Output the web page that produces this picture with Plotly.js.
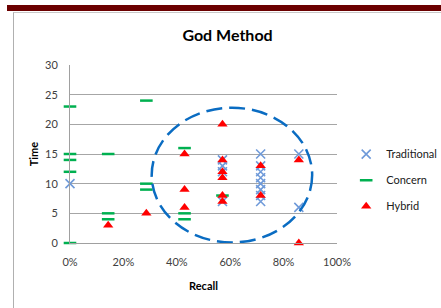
<!DOCTYPE html>
<html>
<head>
<meta charset="utf-8">
<script src="https://cdn.plot.ly/plotly-3.0.1.min.js"></script>
<style>
  html, body { margin: 0; padding: 0; background: #fff; width: 441px; height: 308px; overflow: hidden; }
  #bar { position: absolute; left: 7px; top: 5px; width: 434px; height: 6px; background: #6b0000; }
  #frame { position: absolute; left: 13px; top: 12px; width: 440px; height: 300px; border-left: 1px solid #b0b0b0; border-top: 1px solid #c8c8c8; }
  #chart { position: absolute; left: 0; top: 0; width: 441px; height: 308px; }
</style>
</head>
<body>
<div id="bar"></div>
<div id="frame"></div>
<div id="chart"></div>
<script>
// ---- data ----
const seriesNames = ["Traditional", "Concern", "Hybrid"];

const traditionalRecall = [0, 0.571, 0.571, 0.571, 0.571, 0.714, 0.714, 0.714, 0.714, 0.714, 0.714, 0.714, 0.714, 0.857, 0.857];
const traditionalTime   = [10, 14, 13, 12, 7, 15, 13, 12, 11, 10, 9, 8, 7, 15, 6];

const concernRecall = [0, 0, 0, 0, 0, 0.143, 0.143, 0.143, 0.286, 0.286, 0.286, 0.429, 0.429, 0.429, 0.571];
const concernTime   = [23, 15, 14, 12, 0, 15, 5, 4, 24, 10, 9, 16, 5, 4, 8];

const hybridRecall = [0.143, 0.286, 0.429, 0.429, 0.429, 0.571, 0.571, 0.571, 0.571, 0.571, 0.571, 0.714, 0.714, 0.857, 0.857];
const hybridTime   = [3, 5, 15, 9, 6, 20, 14, 12, 11, 8, 7, 13, 8, 14, 0];

const xTickVals = [0, 0.2, 0.4, 0.6, 0.8, 1.0];
const yTickVals = [0, 5, 10, 15, 20, 25, 30];

// highlighted region (dashed ellipse) bounds in data units
const ellipseRecall = [0.306, 0.907];
const ellipseTime = [0.1, 22.8];

const FONT = "Lato, 'Open Sans', sans-serif";

const traces = [
  {
    x: traditionalRecall, y: traditionalTime, name: seriesNames[0], type: "scatter", mode: "markers",
    cliponaxis: false, legendgroup: "a",
    marker: { symbol: "x-thin", size: 9, color: "#6f9ad9", line: { color: "#6f9ad9", width: 1.6 } }
  },
  {
    x: concernRecall, y: concernTime, name: seriesNames[1], type: "scatter", mode: "markers",
    cliponaxis: false, legendgroup: "b",
    marker: { symbol: "line-ew", size: 9, color: "#00b050", line: { color: "#00b050", width: 2.5 } }
  },
  {
    x: hybridRecall, y: hybridTime, name: seriesNames[2], type: "scatter", mode: "markers",
    cliponaxis: false, legendgroup: "c",
    marker: { symbol: "triangle-up", size: 9, color: "#ff0000", line: { width: 0 } }
  }
];

const layout = {
  width: 441, height: 308,
  paper_bgcolor: "rgba(0,0,0,0)", plot_bgcolor: "rgba(0,0,0,0)",
  margin: { l: 70, r: 104, t: 65, b: 65 },
  font: { family: FONT, size: 11, color: "#404040" },
  title: {
    text: "<b>God Method</b>",
    font: { family: FONT, size: 16, color: "#000" },
    x: 0.59, xanchor: "center", xref: "paper",
    y: 0.885, yanchor: "middle", yref: "container"
  },
  xaxis: {
    range: [0, 1], tickvals: xTickVals, tickformat: ".0%",
    showgrid: false, zeroline: false, showline: true, linecolor: "#a0a0a0", linewidth: 1,
    ticks: "", ticklabelstandoff: 9,
    title: { text: "<b>Recall</b>", font: { family: FONT, size: 11, color: "#000" }, standoff: 15 },
    fixedrange: true
  },
  yaxis: {
    range: [0, 30], tickvals: yTickVals,
    showgrid: true, gridcolor: "#a6a6a6", gridwidth: 1,
    zeroline: false, showline: true, linecolor: "#a0a0a0", linewidth: 1,
    ticks: "", ticklabelstandoff: 9,
    title: { text: "<b>Time</b>", font: { family: FONT, size: 11, color: "#000" }, standoff: 4 },
    fixedrange: true
  },
  legend: {
    xref: "container", yref: "container",
    x: 0.785, xanchor: "left", y: 0.415, yanchor: "middle",
    font: { family: FONT, size: 11, color: "#202020" },
    tracegroupgap: 7, itemwidth: 30, bgcolor: "rgba(0,0,0,0)"
  },
  shapes: [
    {
      type: "circle", xref: "x", yref: "y",
      x0: ellipseRecall[0], x1: ellipseRecall[1], y0: ellipseTime[0], y1: ellipseTime[1],
      line: { color: "#0a6cc2", width: 2.5, dash: "16px,7px" },
      fillcolor: "rgba(0,0,0,0)", layer: "above"
    }
  ]
};

Plotly.newPlot("chart", traces, layout, { staticPlot: true, displayModeBar: false });
</script>
</body>
</html>
